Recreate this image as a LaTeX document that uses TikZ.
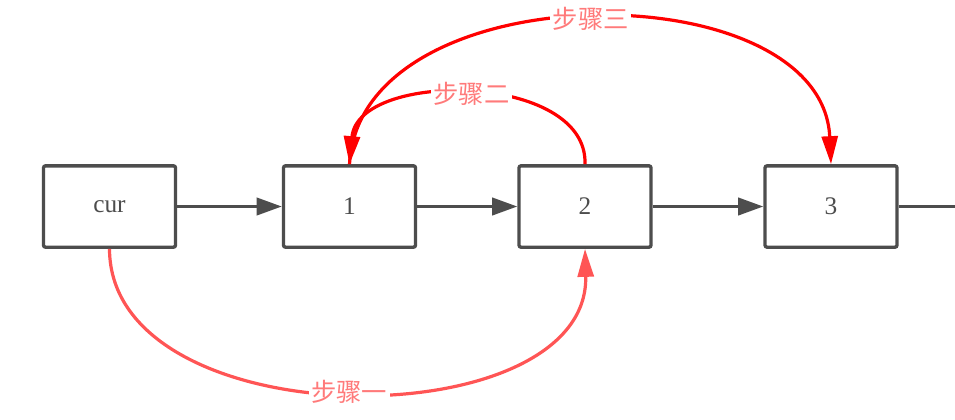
\documentclass[tikz,border=0pt]{standalone}
\usepackage{fontspec}
\setmainfont{Liberation Serif}
\newfontfamily\cjk{Noto Sans CJK SC}
\usetikzlibrary{arrows.meta}
\definecolor{boxgray}{HTML}{4D4D4D}
\definecolor{stepred}{HTML}{FF0000}
\definecolor{steplight}{HTML}{FF5555}
\definecolor{labelpink}{HTML}{FF7A7A}
\begin{document}
\begin{tikzpicture}[x=0.75pt,y=-0.75pt,
  listbox/.style={draw=boxgray,line width=2.5pt,rounded corners=1.5pt,minimum width=99pt,minimum height=61pt,inner sep=0pt,text=boxgray,font=\fontsize{19}{22}\selectfont},
  nextarrow/.style={draw=boxgray,line width=2.5pt,-{Triangle[length=19pt,width=13pt]}},
  redcurve/.style={line width=2.4pt,-{Triangle[length=21pt,width=12pt]}},
  steplabel/.style={fill=white,text=labelpink,inner sep=2pt,font=\cjk\fontsize{19}{22}\selectfont}]
\fill[white] (0,0) rectangle (955,419);
\useasboundingbox (0,0) rectangle (955,419);
\node[listbox] (cur) at (109.5,206.5) {cur};
\node[listbox] (n1) at (349.5,206.5) {1};
\node[listbox] (n2) at (585,206.5) {2};
\node[listbox] (n3) at (831,206.5) {3};
\coordinate (tail) at (955,206.5);
\draw[nextarrow] (cur) -- (n1);
\draw[nextarrow] (n1) -- (n2);
\draw[nextarrow] (n2) -- (n3);
\draw[draw=boxgray,line width=2.5pt] (n3) -- (tail);
\draw[redcurve,draw=steplight] (cur.south) .. controls (110,440) and (590,440) .. (n2.south)
  node[pos=0.5,steplabel] {步骤一};
\draw[redcurve,draw=stepred] (n2.north) .. controls (588,72) and (358,70) .. (n1.north)
  node[pos=0.5,steplabel] {步骤二};
\draw[redcurve,draw=stepred] (n1.north) .. controls (360,-30) and (822,-30) .. (n3.north)
  node[pos=0.5,steplabel] {步骤三};
\end{tikzpicture}
\end{document}
